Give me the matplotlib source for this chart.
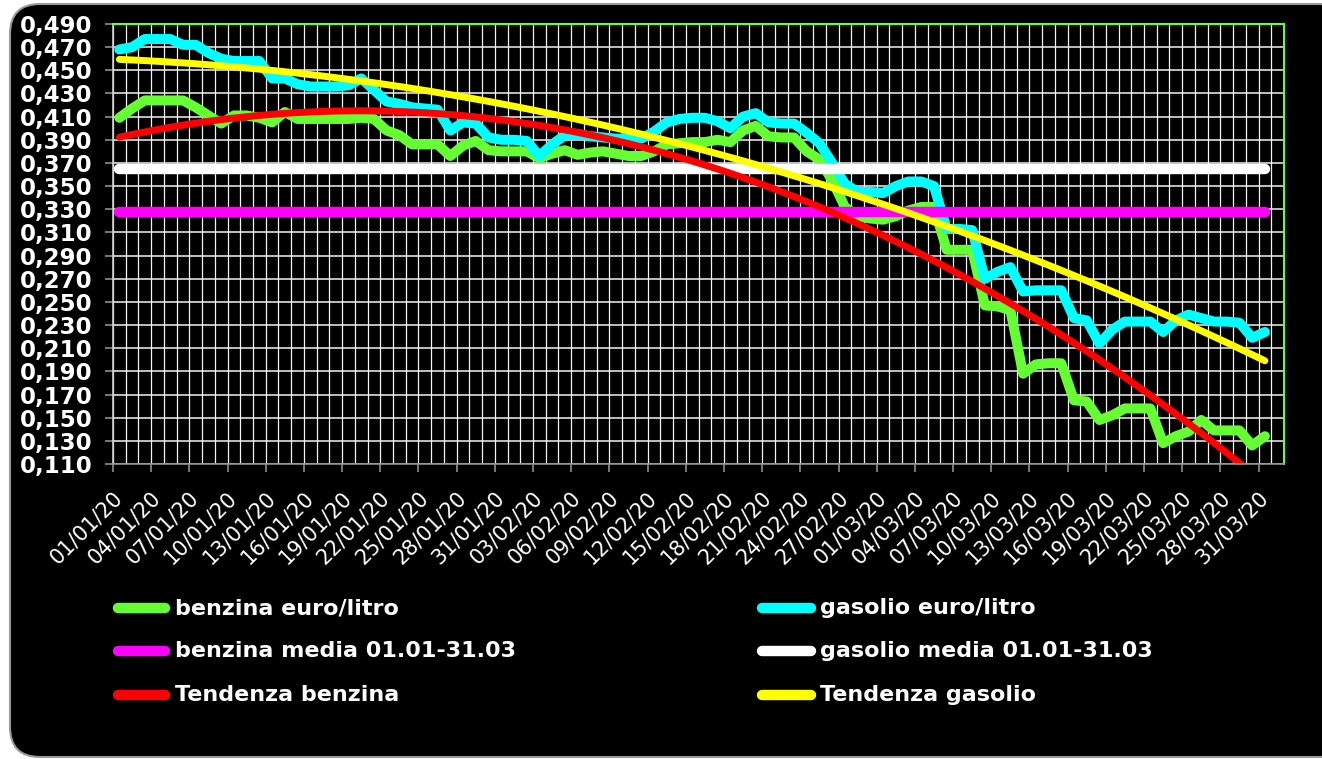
import numpy as np
import matplotlib
matplotlib.use('Agg')
import matplotlib.pyplot as plt
from matplotlib.patches import FancyBboxPatch
from matplotlib.lines import Line2D
from matplotlib.ticker import FuncFormatter

# ---------------- data ----------------
benzina = [0.409, 0.417, 0.424, 0.424, 0.424, 0.424, 0.418, 0.411, 0.404, 0.411,
           0.411, 0.409, 0.405, 0.414, 0.408, 0.408, 0.408, 0.408, 0.408, 0.409,
           0.408, 0.398, 0.394, 0.386, 0.386, 0.386, 0.376, 0.385, 0.389, 0.381,
           0.380, 0.380, 0.380, 0.374, 0.378, 0.381, 0.377, 0.379, 0.380, 0.378,
           0.376, 0.376, 0.380, 0.386, 0.387, 0.388, 0.388, 0.390, 0.388, 0.398,
           0.402, 0.393, 0.392, 0.392, 0.380, 0.373, 0.355, 0.332, 0.324, 0.322,
           0.321, 0.324, 0.329, 0.332, 0.332, 0.295, 0.295, 0.295, 0.247, 0.246,
           0.243, 0.188, 0.196, 0.197, 0.197, 0.165, 0.164, 0.148, 0.152, 0.158,
           0.158, 0.158, 0.128, 0.134, 0.138, 0.148, 0.139, 0.139, 0.139, 0.126,
           0.134]

gasolio = [0.468, 0.470, 0.477, 0.477, 0.477, 0.472, 0.472, 0.465, 0.460, 0.458,
           0.458, 0.458, 0.443, 0.443, 0.438, 0.436, 0.436, 0.436, 0.437, 0.443,
           0.433, 0.423, 0.421, 0.418, 0.417, 0.416, 0.398, 0.405, 0.404, 0.392,
           0.390, 0.390, 0.389, 0.376, 0.386, 0.394, 0.395, 0.393, 0.392, 0.391,
           0.391, 0.391, 0.397, 0.405, 0.408, 0.409, 0.409, 0.406, 0.400, 0.410,
           0.413, 0.405, 0.404, 0.404, 0.396, 0.387, 0.370, 0.352, 0.345, 0.345,
           0.344, 0.350, 0.354, 0.354, 0.350, 0.313, 0.313, 0.312, 0.270, 0.276,
           0.280, 0.259, 0.260, 0.260, 0.260, 0.236, 0.234, 0.214, 0.226, 0.233,
           0.233, 0.233, 0.224, 0.234, 0.239, 0.236, 0.233, 0.233, 0.232, 0.219,
           0.224]

benzina_media = 0.328
gasolio_media = 0.365

tick_labels = ["01/01/20", "04/01/20", "07/01/20", "10/01/20", "13/01/20", "16/01/20",
               "19/01/20", "22/01/20", "25/01/20", "28/01/20", "31/01/20", "03/02/20",
               "06/02/20", "09/02/20", "12/02/20", "15/02/20", "18/02/20", "21/02/20",
               "24/02/20", "27/02/20", "01/03/20", "04/03/20", "07/03/20", "10/03/20",
               "13/03/20", "16/03/20", "19/03/20", "22/03/20", "25/03/20", "28/03/20",
               "31/03/20"]

labels = ["benzina euro/litro", "benzina media 01.01-31.03", "Tendenza benzina",
          "gasolio euro/litro", "gasolio media 01.01-31.03", "Tendenza gasolio"]

# ---------------- styling ----------------
C_BENZ = '#66ff33'
C_GAS = '#00ffff'
C_BMED = '#ff00ff'
C_GMED = '#ffffff'
C_BTR = '#ff0000'
C_GTR = '#ffff00'
C_GRID = '#f2f2f2'

W, H = 1322, 759
fig = plt.figure(figsize=(W / 100, H / 100), dpi=100, facecolor='white')

frame = FancyBboxPatch((0.10, 0.02), 13.4, 7.53,
                       boxstyle='round,pad=0,rounding_size=0.3',
                       transform=fig.dpi_scale_trans, facecolor='black',
                       edgecolor='#9a9a9a', linewidth=1.5, zorder=-10)
fig.add_artist(frame)

ax = fig.add_axes([113 / W, 1 - 464 / H, (1284 - 113) / W, (464 - 24) / H])
ax.set_facecolor('black')
ax.set_axisbelow(False)

x = np.arange(len(benzina))
n_cat = len(benzina) + 1  # chart axis keeps one empty category at the end
ax.set_xlim(-0.5, n_cat - 0.5)
ax.set_ylim(0.11, 0.49)

lw_data = 7.2
lw_med = 7.5
lw_tr = 5.0
kw = dict(solid_capstyle='round', solid_joinstyle='round')

# grid lines (one per value step, one per category boundary)
for yv in np.arange(0.11, 0.4901, 0.02):
    ax.axhline(yv, color=C_GRID, lw=1.1, zorder=2.1)
for xv in np.arange(-0.5, n_cat, 1):
    ax.axvline(xv, color=C_GRID, lw=0.9, zorder=2.1)

ax.plot(x, benzina, color=C_BENZ, lw=lw_data, zorder=3, **kw)
ax.plot(x, gasolio, color=C_GAS, lw=lw_data, zorder=4, **kw)
ax.plot(x, np.full(len(x), benzina_media), color=C_BMED, lw=lw_med, zorder=5, **kw)
ax.plot(x, np.full(len(x), gasolio_media), color=C_GMED, lw=lw_med, zorder=6, **kw)

# polynomial (order 2) trend lines, as in the original spreadsheet chart
xb = np.arange(1, len(benzina) + 1)
tb = np.polyval(np.polyfit(xb, benzina, 2), xb)
tg = np.polyval(np.polyfit(xb, gasolio, 2), xb)
ax.plot(x, tb, color=C_BTR, lw=lw_tr, zorder=7, **kw)
ax.plot(x, tg, color=C_GTR, lw=lw_tr, zorder=8, **kw)

# axes / ticks
for s in ['top', 'right']:
    ax.spines[s].set_color(C_BENZ)
    ax.spines[s].set_linewidth(1.5)
ax.spines['left'].set_color('#d0d0d0')
ax.spines['bottom'].set_color('#909090')
ax.spines['left'].set_linewidth(1.2)
ax.spines['bottom'].set_linewidth(1.2)
for sp in ax.spines.values():
    sp.set_zorder(9)

ax.set_yticks(np.arange(0.11, 0.4901, 0.02))
ax.yaxis.set_major_formatter(FuncFormatter(lambda v, p: f"{v:.3f}".replace('.', ',')))
ax.tick_params(axis='y', length=6, width=1.2, color='#909090', labelcolor='white',
               labelsize=16.5, pad=9)
for t in ax.get_yticklabels():
    t.set_fontweight('bold')

ax.set_xticks(np.arange(-0.5, len(benzina), 3))
ax.set_xticklabels([])
ax.tick_params(axis='x', which='major', length=6, width=1.2, color='#909090')
ax.set_xticks(np.arange(0, len(benzina), 3), minor=True)
ax.set_xticklabels(tick_labels, minor=True, rotation=45, ha='right', va='center',
                   rotation_mode='anchor', fontsize=15, color='white')
ax.tick_params(axis='x', which='minor', length=0, pad=22)

# legend (manual, two columns)
colors = [C_BENZ, C_BMED, C_BTR, C_GAS, C_GMED, C_GTR]
rows_y = [608, 651, 695]
cols_x = [(118, 165, 175), (762, 811, 820)]
for i, (lab, col) in enumerate(zip(labels, colors)):
    c = i // 3
    r = i % 3
    x0, x1, xt = cols_x[c]
    yy = 1 - rows_y[r] / H
    fig.add_artist(Line2D([x0 / W, x1 / W], [yy, yy], color=col, lw=lw_med,
                          solid_capstyle='round', transform=fig.transFigure))
    fig.text(xt / W, yy, lab, color='white', fontsize=16, fontweight='bold',
             ha='left', va='center')

fig.savefig('out.png', dpi=100, facecolor=fig.get_facecolor())
